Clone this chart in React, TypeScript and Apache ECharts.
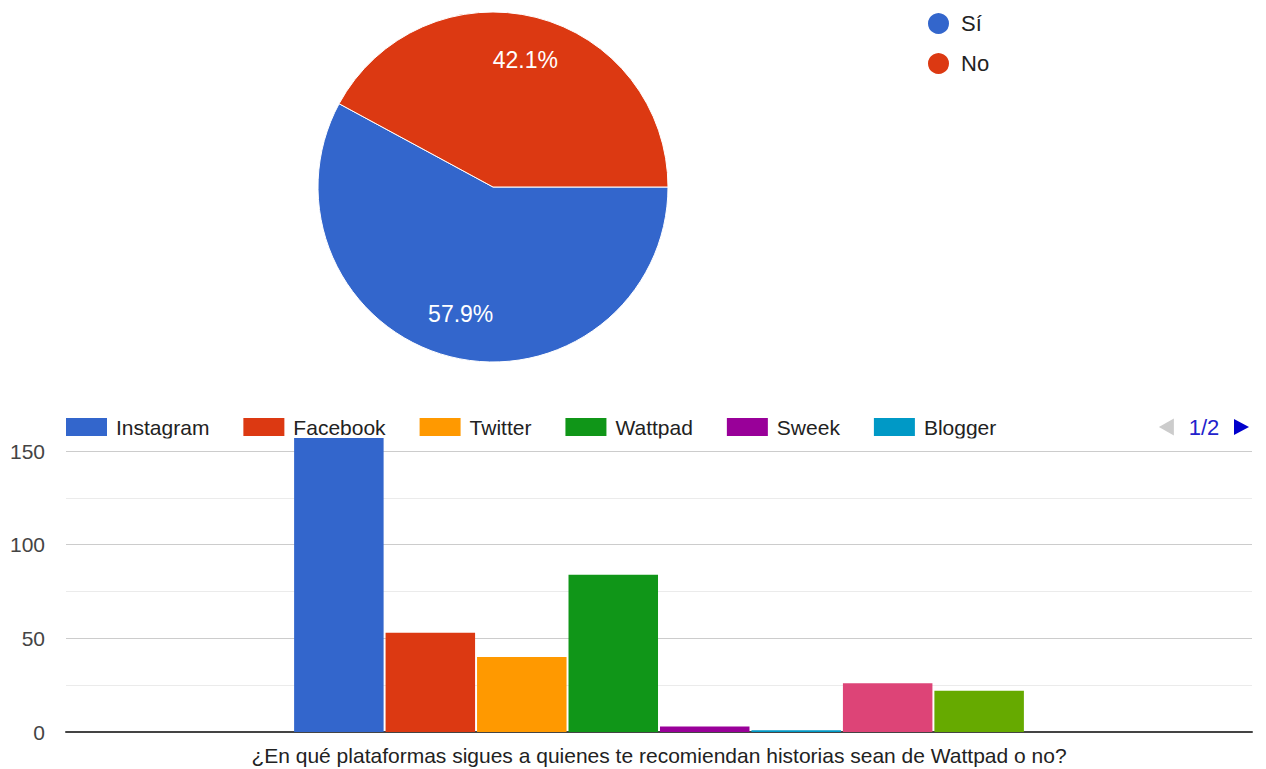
import React, { useEffect, useRef } from "react";
import * as echarts from "echarts";

const pieNames = ["Sí", "No"];
const pieValues = [110, 80];
const pieColors = ["#3366cc", "#dc3912"];

const barCategories = [
  "¿En qué plataformas sigues a quienes te recomiendan historias sean de Wattpad o no?",
];
const platformNames = ["Instagram", "Facebook", "Twitter", "Wattpad", "Sweek", "Blogger", "YouTube", "Otros"];
const platformValues = [157, 53, 40, 84, 3, 1, 26, 22];
const platformColors = ["#3366cc", "#dc3912", "#ff9900", "#109618", "#990099", "#0099c6", "#dd4477", "#66aa00"];

const yMin = 0;
const yMax = 150;
const yInterval = 50;

const FONT = "'Liberation Sans', Arial, sans-serif";

export default function App() {
  const ref = useRef<HTMLDivElement>(null);
  useEffect(() => {
    if (!ref.current) return;
    const chart = echarts.init(ref.current, undefined, { renderer: "svg" });
    const option: any = {
      animation: false,
      textStyle: { fontFamily: FONT },
      legend: [
        {
          data: pieNames,
          orient: "vertical",
          left: 926,
          top: 11,
          padding: 0,
          icon: "circle",
          itemWidth: 23,
          itemHeight: 23,
          itemGap: 15,
          selectedMode: false,
          textStyle: { fontSize: 22, color: "#222", padding: [0, 0, 0, 6], fontFamily: FONT },
        },
        {
          type: "scroll",
          data: platformNames,
          orient: "horizontal",
          left: 66,
          width: 1183,
          top: 416,
          padding: 0,
          icon: "rect",
          itemWidth: 41,
          itemHeight: 18,
          itemGap: 34,
          selectedMode: false,
          textStyle: { fontSize: 21, color: "#222", padding: [0, 0, 0, 4], fontFamily: FONT },
          pageButtonGap: 148,
          pageButtonItemGap: 5,
          pageIcons: {
            horizontal: ["path://M0,8.5L15,0L15,17z", "path://M0,0L16,8.5L0,17z"],
          },
          pageIconSize: [15, 17],
          pageIconColor: "#0000cc",
          pageIconInactiveColor: "#cccccc",
          pageTextStyle: { color: "#2222cc", fontSize: 22, fontFamily: FONT },
          pageFormatter: "{current}/{total}",
        },
      ],
      grid: { left: 66, right: 14, top: 451, bottom: 37 },
      xAxis: {
        type: "category",
        data: barCategories,
        axisLine: { show: true, lineStyle: { color: "#444", width: 2 } },
        axisTick: { show: false },
        axisLabel: { fontSize: 21, color: "#222", margin: 13, fontFamily: FONT },
      },
      yAxis: {
        type: "value",
        min: yMin,
        max: yMax,
        interval: yInterval,
        axisLine: { show: false },
        axisTick: { show: false },
        axisLabel: { fontSize: 21, color: "#444", margin: 21, fontFamily: FONT },
        splitLine: { lineStyle: { color: "#cccccc", width: 1 } },
        minorTick: { show: false, splitNumber: 2 },
        minorSplitLine: { show: true, lineStyle: { color: "#ebebeb", width: 1 } },
      },
      series: [
        {
          type: "pie",
          name: "main",
          center: [493, 187],
          radius: [0, 175],
          startAngle: 0,
          clockwise: true,
          label: { show: false },
          labelLine: { show: false },
          emphasis: { disabled: true },
          silent: true,
          itemStyle: { borderColor: "#ffffff", borderWidth: 1 },
          data: pieNames.map((n, i) => ({ name: n, value: pieValues[i], itemStyle: { color: pieColors[i] } })),
        },
        {
          type: "pie",
          name: "labels",
          center: [493, 187],
          radius: [82, 175],
          startAngle: 0,
          clockwise: true,
          percentPrecision: 1,
          silent: true,
          emphasis: { disabled: true },
          itemStyle: { color: "rgba(0,0,0,0)", borderWidth: 0 },
          label: {
            show: true,
            position: "inside",
            formatter: "{d}%",
            color: "#ffffff",
            fontSize: 23,
            fontFamily: FONT,
          },
          labelLine: { show: false },
          data: pieNames.map((n, i) => ({ name: n, value: pieValues[i] })),
        },
        ...platformNames.map((n, i) => ({
          type: "bar",
          name: n,
          data: [platformValues[i]],
          barWidth: 89.5,
          barGap: "2.2%",
          clip: false,
          itemStyle: { color: platformColors[i] },
          emphasis: { disabled: true },
        })),
      ],
    };
    chart.setOption(option);
    return () => chart.dispose();
  }, []);
  return (
    <div
      ref={ref}
      style={{ position: "fixed", left: 0, top: 0, width: 1266, height: 769, background: "#fff" }}
    />
  );
}
